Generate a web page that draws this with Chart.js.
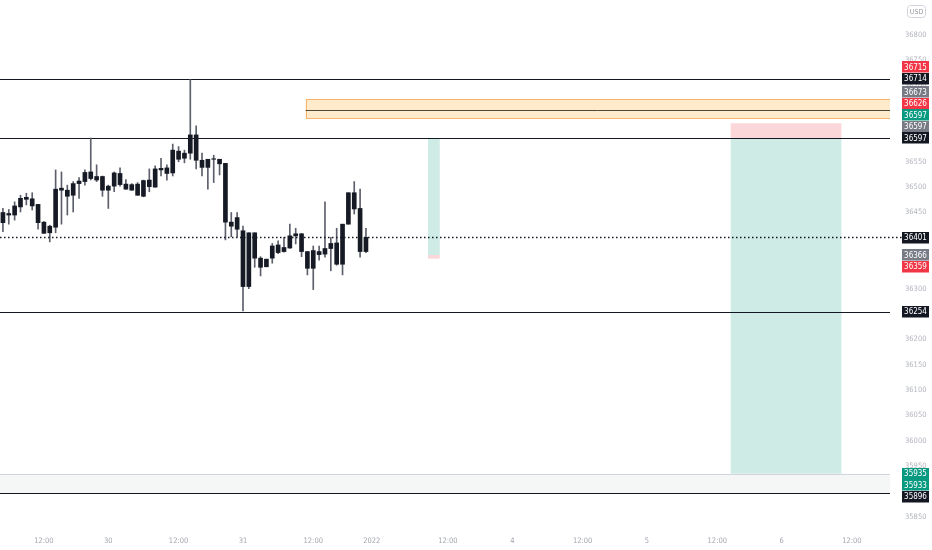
<!DOCTYPE html>
<html>
<head>
<meta charset="utf-8">
<script src="https://cdn.jsdelivr.net/npm/chart.js@4.4.1/dist/chart.umd.min.js"></script>
<style>
  html, body { margin: 0; padding: 0; background: #ffffff; }
  #wrap { width: 932px; height: 550px; position: relative; }
</style>
</head>
<body>
<div id="wrap"><canvas id="candles"></canvas></div>
<script>
"use strict";

/* hourly bars Dec 29 - Dec 31 2021, then empty slots into the future */
var slotCount = 152;
var tickIdx  = [7, 18, 30, 41, 53, 63, 76, 87, 99, 110, 122, 133, 145];
var tickText = ['12:00', '30', '12:00', '31', '12:00', '2022', '12:00', '4', '12:00', '5', '12:00', '6', '12:00'];

var opens  = [36430, 36445, 36445, 36461, 36480, 36477, 36466, 36431, 36410, 36421,
              36498, 36494, 36484, 36507, 36511, 36530, 36514, 36521, 36494, 36502,
              36527, 36506, 36494, 36506, 36482, 36514, 36500, 36534, 36538, 36528,
              36571, 36557, 36567, 36603, 36553, 36539, 36556, 36555, 36547, 36423,
              36440, 36414, 36304, 36410, 36360, 36343, 36360, 36386, 36373, 36380,
              36404, 36408, 36373, 36340, 36373, 36368, 36379, 36390, 36348, 36427,
              36489, 36458, 36373];
var highs  = [36458, 36456, 36471, 36484, 36488, 36489, 36466, 36432, 36425, 36534,
              36530, 36504, 36511, 36519, 36534, 36597, 36544, 36522, 36504, 36530,
              36538, 36515, 36507, 36509, 36514, 36536, 36542, 36557, 36544, 36585,
              36580, 36573, 36712, 36621, 36567, 36555, 36563, 36555, 36547, 36450,
              36450, 36423, 36410, 36410, 36363, 36358, 36389, 36394, 36401, 36427,
              36419, 36409, 36373, 36384, 36384, 36471, 36401, 36419, 36427, 36489,
              36511, 36496, 36419];
var lows   = [36412, 36427, 36435, 36451, 36465, 36455, 36417, 36409, 36392, 36410,
              36427, 36445, 36451, 36478, 36504, 36514, 36511, 36482, 36458, 36491,
              36502, 36496, 36494, 36484, 36481, 36491, 36500, 36522, 36514, 36522,
              36550, 36548, 36555, 36536, 36522, 36496, 36509, 36524, 36396, 36402,
              36402, 36256, 36300, 36342, 36325, 36343, 36350, 36369, 36372, 36379,
              36388, 36363, 36327, 36298, 36356, 36362, 36335, 36346, 36327, 36427,
              36447, 36362, 36371];
var closes = [36450, 36448, 36463, 36478, 36476, 36463, 36430, 36409, 36423, 36496,
              36494, 36482, 36507, 36512, 36529, 36517, 36521, 36494, 36502, 36528,
              36505, 36496, 36505, 36484, 36513, 36501, 36536, 36537, 36527, 36573,
              36555, 36567, 36603, 36553, 36539, 36555, 36555, 36546, 36431, 36431,
              36417, 36304, 36410, 36360, 36342, 36358, 36384, 36371, 36381, 36404,
              36408, 36373, 36340, 36375, 36367, 36379, 36389, 36348, 36427, 36489,
              36457, 36373, 36401];

/* drawings on the chart */
var hLines = [36714, 36597, 36254, 35896];
var lastPrice = 36401;
var zone = [36673, 36652, 36636];          // top, middle, bottom
var zoneFrom = 51.7;                       // slot where the zone starts, extends right
var band = [35934, 35896];
var longPos  = [72.6, 74.6, 36366, 36597, 36359];   // from, to, entry, target, stop
var shortPos = [124.3, 143.2, 36597, 35935, 36626];

/* price tags on the axis, top to bottom */
var tagValues = [36715, 36714, 36673, 36626, 36597, 36597, 36597, 36401, 36366, 36359, 36254, 35935, 35933, 35896];
var tagKinds  = ['red', 'black', 'gray', 'red', 'teal', 'gray', 'black', 'black', 'gray', 'red', 'black', 'teal', 'teal', 'black'];

var FONT = "'DejaVu Sans Condensed', 'Liberation Sans Narrow', Roboto, sans-serif";
var tagColors = { red: '#f23645', black: '#131722', gray: '#787b86', teal: '#089981' };

var categories = [];
for (var i = 0; i < slotCount; i++) categories.push('');
tickIdx.forEach(function (k, n) { categories[k] = tickText[n]; });

var bodies = [], wicks = [];
for (var j = 0; j < slotCount; j++) {
    if (j < opens.length) {
        var o = opens[j], c = closes[j];
        if (o === c) c = c + 1;
        bodies.push([o, c]);
        wicks.push([lows[j], highs[j]]);
    } else {
        bodies.push(null);
        wicks.push(null);
    }
}

function hline(ctx, x0, x1, py, color) {
    var yy = Math.round(py) + 0.5;
    ctx.strokeStyle = color;
    ctx.lineWidth = 1;
    ctx.beginPath();
    ctx.moveTo(x0, yy);
    ctx.lineTo(x1, yy);
    ctx.stroke();
}

var drawings = {
    id: 'drawings',
    beforeDatasetsDraw: function (chart) {
        var ctx = chart.ctx, a = chart.chartArea, xs = chart.scales.x, ys = chart.scales.y;
        ctx.save();
        ctx.beginPath();
        ctx.rect(a.left, a.top, a.right - a.left, a.bottom - a.top);
        ctx.clip();

        /* gray band at the bottom */
        var b0 = ys.getPixelForValue(band[0]), b1 = ys.getPixelForValue(band[1]);
        ctx.fillStyle = 'rgba(120, 123, 134, 0.07)';
        ctx.fillRect(a.left, b0, a.right - a.left, b1 - b0);
        hline(ctx, a.left, a.right, b0, '#d1d4dc');

        /* orange zone */
        var zx = xs.getPixelForValue(zoneFrom);
        var z0 = ys.getPixelForValue(zone[0]), z2 = ys.getPixelForValue(zone[2]);
        ctx.fillStyle = 'rgba(255, 152, 0, 0.2)';
        ctx.fillRect(zx, z0, a.right - zx, z2 - z0);
        ctx.strokeStyle = '#f7b36a';
        ctx.lineWidth = 1;
        ctx.strokeRect(Math.round(zx) + 0.5, Math.round(z0) + 0.5, a.right - zx, Math.round(z2 - z0));
        hline(ctx, zx, a.right, ys.getPixelForValue(zone[1]), '#4a4a3a');

        /* long / short position tools */
        [longPos, shortPos].forEach(function (p) {
            var px0 = xs.getPixelForValue(p[0]), px1 = xs.getPixelForValue(p[1]);
            var ye = ys.getPixelForValue(p[2]), yt = ys.getPixelForValue(p[3]), yst = ys.getPixelForValue(p[4]);
            ctx.fillStyle = 'rgba(8, 153, 129, 0.2)';
            ctx.fillRect(px0, Math.min(ye, yt), px1 - px0, Math.abs(yt - ye));
            ctx.fillStyle = 'rgba(242, 54, 69, 0.2)';
            ctx.fillRect(px0, Math.min(ye, yst), px1 - px0, Math.max(Math.abs(yst - ye), 2));
        });

        /* horizontal levels */
        hLines.forEach(function (v) {
            hline(ctx, a.left, a.right, ys.getPixelForValue(v), '#131722');
        });
        ctx.restore();
    },
    afterDatasetsDraw: function (chart) {
        var ctx = chart.ctx, a = chart.chartArea, ys = chart.scales.y;
        var py = Math.round(ys.getPixelForValue(lastPrice)) + 0.5;
        ctx.save();
        ctx.strokeStyle = '#131722';
        ctx.lineWidth = 1.5;
        ctx.setLineDash([1.5, 2.5]);
        ctx.beginPath();
        ctx.moveTo(a.left, py);
        ctx.lineTo(a.right + 12, py);
        ctx.stroke();
        ctx.restore();
    },
    afterDraw: function (chart) {
        var ctx = chart.ctx, a = chart.chartArea, ys = chart.scales.y;
        var h = 11.5, tx = a.right + 12, tw = 27;
        var pos = tagValues.map(function (v) { return ys.getPixelForValue(v); });

        /* tags above the last price stack upward, those below stack downward */
        var k, prev = null;
        for (k = tagValues.length - 1; k >= 0; k--) {
            if (tagValues[k] < lastPrice) continue;
            if (prev !== null) pos[k] = Math.min(pos[k], prev - h);
            prev = pos[k];
        }
        prev = null;
        for (k = 0; k < tagValues.length; k++) {
            if (tagValues[k] >= lastPrice) continue;
            if (prev !== null) pos[k] = Math.max(pos[k], prev + h);
            prev = pos[k];
        }

        ctx.save();
        ctx.font = '8px ' + FONT;
        ctx.textAlign = 'center';
        ctx.textBaseline = 'middle';
        for (k = 0; k < tagValues.length; k++) {
            var cy = pos[k];
            ctx.fillStyle = tagColors[tagKinds[k]];
            ctx.fillRect(tx, Math.round(cy - h / 2), tw, h);
            ctx.fillStyle = '#ffffff';
            ctx.fillText(String(tagValues[k]), tx + tw / 2, cy + 0.5);
        }

        /* currency box */
        ctx.strokeStyle = '#d1d4dc';
        ctx.lineWidth = 1;
        ctx.beginPath();
        ctx.roundRect(907.5, 5.5, 18, 12, 3);
        ctx.stroke();
        ctx.fillStyle = '#9598a1';
        ctx.font = '7px ' + FONT;
        ctx.fillText('USD', 916.5, 11.8);
        ctx.restore();
    }
};

var ctxC = document.getElementById('candles').getContext('2d');
var candleChart = new Chart(ctxC, {
    type: 'bar',
    data: {
        labels: categories,
        datasets: [{
            label: 'wick',
            data: wicks,
            backgroundColor: '#5d606b',
            barThickness: 1,
            grouped: false,
            order: 2
        }, {
            label: 'body',
            data: bodies,
            backgroundColor: '#161a25',
            barThickness: 4,
            grouped: false,
            order: 1
        }]
    },
    options: {
        responsive: true,
        maintainAspectRatio: false,
        animation: false,
        events: [],
        layout: { padding: 0 },
        plugins: {
            legend: { display: false },
            tooltip: { enabled: false }
        },
        scales: {
            x: {
                grid: { display: false, drawTicks: false },
                border: { display: false },
                ticks: {
                    autoSkip: false,
                    maxRotation: 0,
                    minRotation: 0,
                    padding: 7,
                    color: '#a3a6af',
                    font: { size: 7.5, family: FONT },
                    callback: function (v, i) { return categories[i] || null; }
                },
                afterFit: function (s) {
                    s.height = 20;
                    s.paddingLeft = 0;
                    s.paddingRight = 0;
                }
            },
            y: {
                position: 'right',
                min: 35824,
                max: 36869,
                grid: { display: false, drawTicks: false },
                border: { display: false },
                ticks: {
                    stepSize: 50,
                    includeBounds: false,
                    padding: 15,
                    color: '#b2b5be',
                    font: { size: 7.5, family: FONT },
                    callback: function (v) { return v > 36800 ? null : String(v); }
                },
                afterFit: function (s) {
                    s.width = 42;
                    s.paddingTop = 0;
                    s.paddingBottom = 0;
                }
            }
        }
    },
    plugins: [drawings]
});
</script>
</body>
</html>
